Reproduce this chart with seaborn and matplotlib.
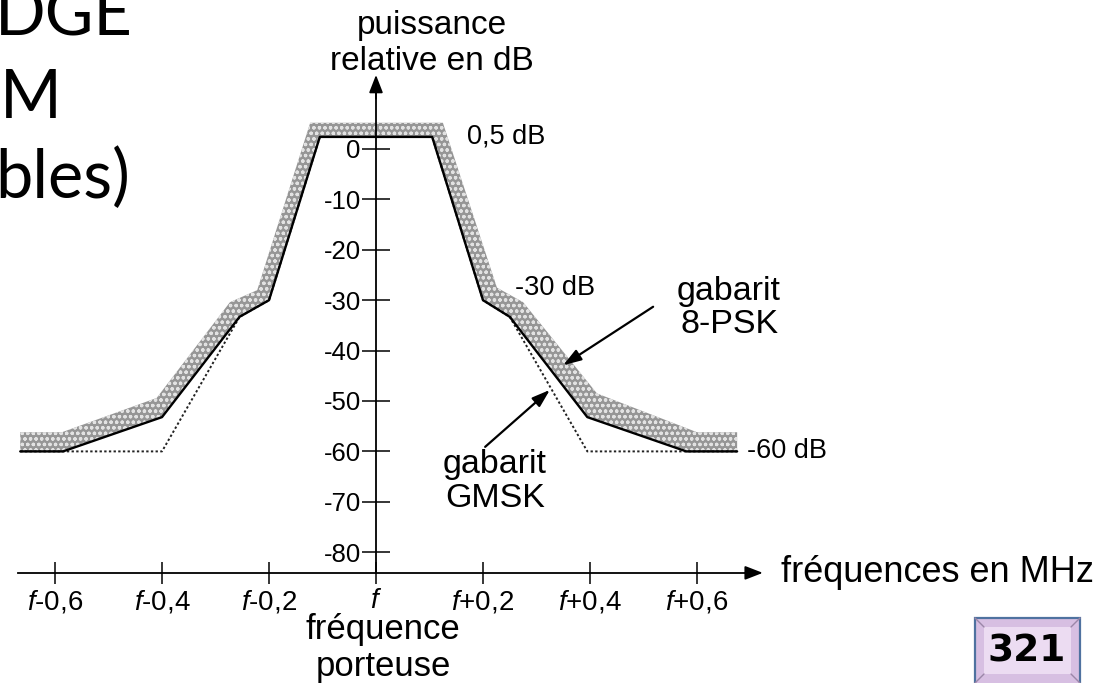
import matplotlib
matplotlib.use("Agg")
import matplotlib.pyplot as plt
import seaborn as sns
from matplotlib.patches import Rectangle
from matplotlib.lines import Line2D

# ---------------- data ----------------
# 8-PSK mask line (solid), frequency offset in MHz, level in dB
freq_8psk = [-0.665, -0.585, -0.40, -0.255, -0.20, -0.105, 0.105, 0.20, 0.25, 0.395, 0.58, 0.675]
db_8psk = [-60, -60, -53.2, -33.3, -30, 2.4, 2.4, -30, -33.3, -53.2, -60, -60]
# outer edge of the shaded 8-PSK band
freq_band = [-0.665, -0.587, -0.41, -0.273, -0.222, -0.123, 0.125, 0.226, 0.275, 0.413, 0.60, 0.675]
db_band = [-56.2, -56.2, -49.4, -30.4, -28.0, 5.2, 5.2, -27.5, -30.4, -48.5, -56.2, -56.2]
# GMSK mask (dotted)
freq_gmsk = [-0.665, -0.40, -0.255, -0.20, -0.105, 0.105, 0.20, 0.25, 0.395, 0.675]
db_gmsk = [-60, -60, -33.3, -30, 2.4, 2.4, -30, -33.3, -60, -60]

xtick_vals = [-0.6, -0.4, -0.2, 0.0, 0.2, 0.4, 0.6]
xtick_labels = [r"$\mathit{f}$-0,6", r"$\mathit{f}$-0,4", r"$\mathit{f}$-0,2", r"$\mathit{f}$",
                r"$\mathit{f}$+0,2", r"$\mathit{f}$+0,4", r"$\mathit{f}$+0,6"]
ytick_vals = [0, -10, -20, -30, -40, -50, -60, -70, -80]
ytick_labels = ["0", "-10", "-20", "-30", "-40", "-50", "-60", "-70", "-80"]

# ---------------- style ----------------
sns.set_theme(style="white")
plt.rcParams["font.family"] = ["Liberation Sans", "DejaVu Sans"]
plt.rcParams["text.color"] = "black"
plt.rcParams["mathtext.fontset"] = "custom"
plt.rcParams["mathtext.it"] = "Liberation Sans:italic"
plt.rcParams["mathtext.rm"] = "Liberation Sans"
plt.rcParams["hatch.linewidth"] = 0.9

W, H = 1098, 683
fig = plt.figure(figsize=(W / 100, H / 100), dpi=100)
fig.patch.set_facecolor("white")
ax = fig.add_axes([0, 0, 1, 1])
ax.set_facecolor("none")

# pixel mapping: x_px = 376 + 535*f ; y_px = 149 - 5.04*dB
ax.set_xlim(-376 / 535, (W - 376) / 535)
ax.set_ylim(-(H - 149) / 5.04, 149 / 5.04)

X_AXIS_Y = -84.1

# axes as spines through the origin
for s in ("top", "right"):
    ax.spines[s].set_visible(False)
ax.spines["left"].set_position(("data", 0))
ax.spines["bottom"].set_position(("data", X_AXIS_Y))
ax.spines["left"].set_bounds(X_AXIS_Y, 12.5)
ax.spines["bottom"].set_bounds(-0.67, 0.70)
for s in ("left", "bottom"):
    ax.spines[s].set_color("black")
    ax.spines[s].set_linewidth(1.3)

ax.set_xticks(xtick_vals, labels=xtick_labels)
ax.set_yticks(ytick_vals, labels=ytick_labels)
ax.tick_params(axis="x", direction="inout", length=16.5, width=1.1, pad=3,
               labelsize=20, colors="black", bottom=True)
ax.tick_params(axis="y", direction="inout", length=20, width=1.1, pad=1,
               labelsize=18.5, colors="black", left=True)
ax.grid(False)

# arrow heads on the axes
ax.annotate("", xy=(0.723, X_AXIS_Y), xytext=(0.69, X_AXIS_Y),
            arrowprops=dict(arrowstyle="-|>,head_length=0.9,head_width=0.35",
                            color="black", lw=1.3, shrinkA=0, shrinkB=0))
ax.annotate("", xy=(0, 14.7), xytext=(0, 10),
            arrowprops=dict(arrowstyle="-|>,head_length=0.9,head_width=0.35",
                            color="black", lw=1.3, shrinkA=0, shrinkB=0))

# shaded band (8-PSK template)
poly_x = list(freq_band) + list(freq_8psk[::-1])
poly_y = list(db_band) + list(db_8psk[::-1])
ax.fill(poly_x, poly_y, facecolor="#969696", edgecolor="#e2e2e2",
        hatch="ooo", linewidth=0, zorder=2)

# GMSK dotted line, 8-PSK solid line
sns.lineplot(x=freq_gmsk, y=db_gmsk, ax=ax, color="#222222", linewidth=1.4,
             linestyle=(0, (1.2, 1.2)), estimator=None, sort=False, zorder=3)
sns.lineplot(x=freq_8psk, y=db_8psk, ax=ax, color="black", linewidth=1.7,
             estimator=None, sort=False, zorder=4)

# annotations
ax.text(0.17, 2.4, "0,5 dB", fontsize=19.5, ha="left", va="center")
ax.text(0.26, -27.5, "-30 dB", fontsize=19.5, ha="left", va="center")
ax.text(0.693, -60, "-60 dB", fontsize=19.5, ha="left", va="center")
ax.text(0.66, -31.5, "gabarit\n8-PSK", fontsize=24.5, ha="center", va="center",
        linespacing=1.1)
ax.text(0.222, -66, "gabarit\nGMSK", fontsize=24.5, ha="center", va="center",
        linespacing=1.1)
ax.text(0.105, 21.0, "puissance\nrelative en dB", fontsize=24, ha="center",
        va="center", linespacing=1.2)
ax.text(0.757, X_AXIS_Y, "fréquences en MHz", fontsize=26, ha="left", va="center")
ax.text(0.013, -99.0, "fréquence\nporteuse", fontsize=25, ha="center",
        va="center", linespacing=1.12)

ax.annotate("", xy=(0.35, -42.9), xytext=(0.518, -31.3),
            arrowprops=dict(arrowstyle="-|>,head_length=0.9,head_width=0.3",
                            color="black", lw=1.6, shrinkA=0, shrinkB=0))
ax.annotate("", xy=(0.325, -47.8), xytext=(0.204, -59.1),
            arrowprops=dict(arrowstyle="-|>,head_length=0.9,head_width=0.3",
                            color="black", lw=1.6, shrinkA=0, shrinkB=0))

# ---------------- slide text (left, clipped title) ----------------
def fx(px):
    return px / W


def fy(py):
    return 1 - py / H


fig.text(fx(133), fy(35), "DGE", fontsize=48, family=["Lato", "DejaVu Sans"],
         ha="right", va="baseline", color="black")
fig.text(fx(62), fy(118), "M", fontsize=48, family=["Lato", "DejaVu Sans"],
         ha="right", va="baseline", color="black")
fig.text(fx(130), fy(198), "bles)", fontsize=48, family=["Lato", "DejaVu Sans"],
         ha="right", va="baseline", color="black")

# ---------------- page number badge ----------------
outer = Rectangle((fx(975), fy(700)), fx(1080) - fx(975), fy(618) - fy(700),
                  transform=fig.transFigure, facecolor="#d7bfe2",
                  edgecolor="#4f72a0", linewidth=1.6, zorder=5)
inner = Rectangle((fx(984), fy(674)), fx(1071) - fx(984), fy(627) - fy(674),
                  transform=fig.transFigure, facecolor="#ecdcf2",
                  edgecolor="none", zorder=6)
fig.patches.extend([outer, inner])
for (x1, y1, x2, y2) in [(975, 618, 984, 627), (1080, 618, 1071, 627),
                         (975, 683, 984, 674), (1080, 683, 1071, 674)]:
    fig.lines.append(Line2D([fx(x1), fx(x2)], [fy(y1), fy(y2)],
                            transform=fig.transFigure, color="#9b86a8",
                            linewidth=1.0, zorder=7))
fig.text(fx(1027), fy(652), "321", fontsize=27, fontweight="bold",
         family=["DejaVu Sans"], ha="center", va="center", color="black", zorder=8)

fig.savefig("out.png", dpi=100)
